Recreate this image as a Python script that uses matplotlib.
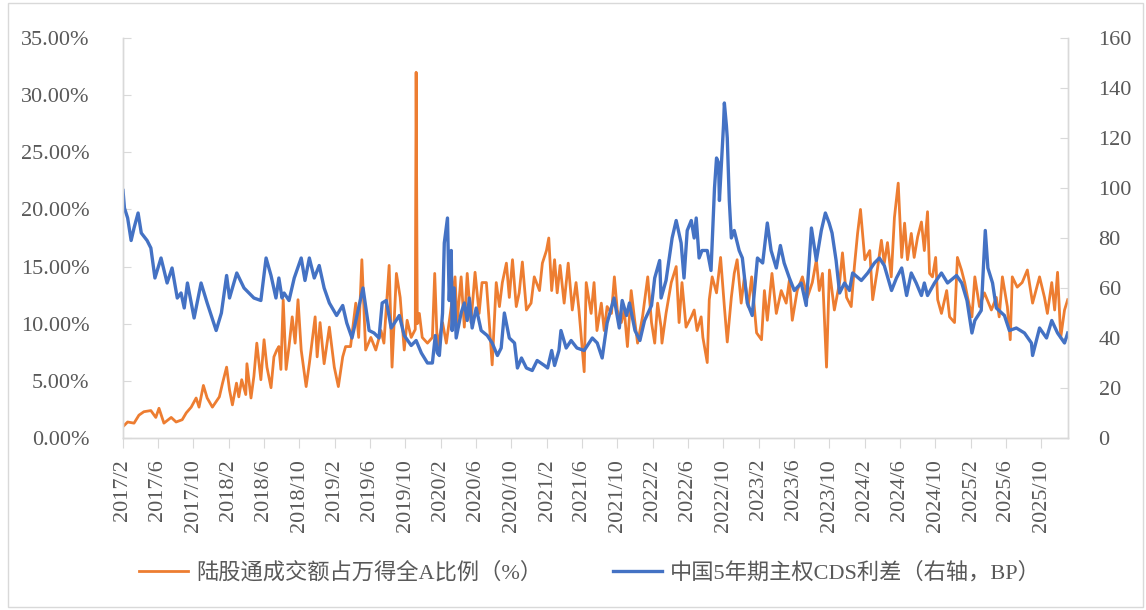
import matplotlib
matplotlib.use("Agg")
import matplotlib.pyplot as plt
import matplotlib.dates as mdates
from matplotlib.ticker import FuncFormatter, MultipleLocator
from matplotlib.patches import Rectangle
import pandas as pd

# ---------------- data ----------------
ratio_dates = [
    "2017-02-01", "2017-02-17", "2017-03-11", "2017-03-28", "2017-04-14", "2017-05-08", "2017-05-25",
    "2017-06-05", "2017-06-22", "2017-07-17", "2017-08-03", "2017-08-24", "2017-09-07", "2017-09-24",
    "2017-10-11", "2017-10-21", "2017-11-05", "2017-11-18", "2017-12-06", "2017-12-30", "2018-01-10",
    "2018-01-24", "2018-02-03", "2018-02-13", "2018-02-27", "2018-03-07", "2018-03-17", "2018-03-31",
    "2018-04-04", "2018-04-18", "2018-04-28", "2018-05-08", "2018-05-22", "2018-06-02", "2018-06-12",
    "2018-06-26", "2018-07-06", "2018-07-16", "2018-07-23", "2018-07-30", "2018-08-07", "2018-08-17",
    "2018-08-27", "2018-09-07", "2018-09-17", "2018-09-27", "2018-10-08", "2018-10-25", "2018-11-05",
    "2018-11-25", "2018-12-02", "2018-12-12", "2018-12-26", "2019-01-13", "2019-01-30", "2019-02-13",
    "2019-02-28", "2019-03-10", "2019-03-27", "2019-04-14", "2019-04-24", "2019-05-05", "2019-05-18",
    "2019-06-05", "2019-06-22", "2019-07-10", "2019-07-20", "2019-08-07", "2019-08-17", "2019-09-01",
    "2019-09-14", "2019-09-28", "2019-10-08", "2019-10-22", "2019-11-05", "2019-11-08", "2019-11-12",
    "2019-11-19", "2019-11-29", "2019-12-17", "2020-01-03", "2020-01-11", "2020-01-20", "2020-02-07",
    "2020-02-20", "2020-03-08", "2020-03-21", "2020-03-28", "2020-04-11", "2020-04-22", "2020-05-02",
    "2020-05-15", "2020-05-29", "2020-06-12", "2020-06-22", "2020-07-07", "2020-07-17", "2020-07-27",
    "2020-08-10", "2020-08-21", "2020-08-31", "2020-09-14", "2020-09-24", "2020-10-05", "2020-10-18",
    "2020-10-28", "2020-11-08", "2020-11-22", "2020-12-08", "2020-12-19", "2021-01-06", "2021-01-16",
    "2021-01-30", "2021-02-07", "2021-02-17", "2021-02-27", "2021-03-08", "2021-03-18", "2021-04-01",
    "2021-04-15", "2021-04-29", "2021-05-12", "2021-05-22", "2021-06-09", "2021-06-16", "2021-07-03",
    "2021-07-13", "2021-07-23", "2021-08-07", "2021-08-17", "2021-08-27", "2021-09-11", "2021-09-21",
    "2021-10-01", "2021-10-15", "2021-10-25", "2021-11-05", "2021-11-18", "2021-11-30", "2021-12-10",
    "2021-12-27", "2022-01-14", "2022-01-27", "2022-02-07", "2022-02-17", "2022-03-01", "2022-03-04",
    "2022-03-18", "2022-04-05", "2022-04-22", "2022-05-02", "2022-05-12", "2022-05-26", "2022-06-13",
    "2022-06-23", "2022-07-03", "2022-07-17", "2022-07-23", "2022-08-07", "2022-08-14", "2022-08-24",
    "2022-09-08", "2022-09-22", "2022-10-05", "2022-10-15", "2022-10-29", "2022-11-08", "2022-11-18",
    "2022-12-02", "2022-12-13", "2022-12-26", "2023-01-07", "2023-01-24", "2023-02-10", "2023-02-20",
    "2023-03-02", "2023-03-18", "2023-04-02", "2023-04-19", "2023-05-06", "2023-05-17", "2023-05-27",
    "2023-06-13", "2023-07-01", "2023-07-18", "2023-08-04", "2023-08-18", "2023-08-28", "2023-09-08",
    "2023-09-22", "2023-10-02", "2023-10-19", "2023-11-06", "2023-11-16", "2023-11-30", "2023-12-16",
    "2023-12-27", "2024-01-07", "2024-01-17", "2024-02-01", "2024-02-18", "2024-02-28", "2024-03-15",
    "2024-03-29", "2024-04-08", "2024-04-19", "2024-05-02", "2024-05-13", "2024-05-26", "2024-06-07",
    "2024-06-17", "2024-06-27", "2024-07-10", "2024-07-20", "2024-08-01", "2024-08-14", "2024-08-24",
    "2024-09-04", "2024-09-11", "2024-09-21", "2024-10-02", "2024-10-09", "2024-10-22", "2024-11-09",
    "2024-11-19", "2024-12-06", "2024-12-16", "2024-12-30", "2025-01-10", "2025-01-20", "2025-02-04",
    "2025-02-14", "2025-03-02", "2025-03-19", "2025-04-12", "2025-04-29", "2025-05-09", "2025-05-20",
    "2025-06-06", "2025-06-16", "2025-06-23", "2025-07-10", "2025-07-27", "2025-08-14", "2025-09-01",
    "2025-09-25", "2025-10-12", "2025-10-22", "2025-11-06", "2025-11-16", "2025-11-26", "2025-12-07",
    "2025-12-20", "2025-12-31",
]
ratio_values = [
    1.0, 1.4, 1.3, 2.0, 2.3, 2.4, 1.8,
    2.6, 1.3, 1.8, 1.4, 1.6, 2.2, 2.7,
    3.5, 2.7, 4.6, 3.5, 2.7, 3.6, 4.8,
    6.2, 4.2, 2.9, 4.8, 3.6, 5.1, 3.8,
    6.5, 3.5, 5.4, 8.3, 5.1, 8.6, 6.2,
    4.4, 7.1, 7.7, 8.0, 6.0, 12.1, 6.0,
    8.0, 10.6, 8.3, 12.1, 7.7, 4.5, 6.5,
    10.6, 7.1, 10.1, 6.5, 9.7, 6.2, 4.5,
    7.1, 8.0, 8.0, 11.8, 8.8, 15.6, 7.7,
    8.8, 7.7, 9.4, 8.3, 15.1, 6.2, 14.4,
    12.3, 7.7, 10.3, 8.8, 9.5, 32.0, 10.0,
    10.9, 8.8, 8.3, 8.8, 14.4, 8.0, 10.1,
    8.3, 11.5, 14.1, 10.1, 14.1, 9.7, 14.4,
    10.1, 14.5, 10.9, 13.6, 13.6, 10.1, 6.4,
    13.6, 11.5, 13.6, 15.3, 12.3, 15.6, 11.5,
    12.7, 15.4, 11.2, 11.8, 14.1, 12.9, 15.3,
    16.4, 17.5, 12.9, 15.6, 12.7, 15.1, 11.8,
    15.3, 11.2, 13.6, 11.2, 5.8, 13.6, 10.9,
    13.6, 9.4, 11.8, 9.4, 11.5, 10.9, 14.1,
    11.2, 10.1, 11.2, 8.0, 12.9, 10.3, 8.3,
    10.6, 14.1, 10.1, 8.3, 11.8, 9.7, 8.3,
    10.9, 13.6, 15.0, 10.1, 13.6, 9.7, 10.6,
    11.2, 9.4, 10.6, 8.8, 6.6, 12.1, 14.1,
    12.7, 15.8, 11.5, 8.4, 12.3, 14.4, 15.6,
    11.8, 14.1, 11.5, 14.1, 9.2, 8.6, 12.9,
    10.3, 14.4, 10.9, 12.9, 11.8, 13.8, 10.3,
    12.9, 14.1, 12.3, 13.6, 15.6, 12.9, 14.4,
    6.2, 14.7, 11.2, 13.6, 16.2, 12.3, 11.5,
    15.0, 17.9, 20.0, 15.6, 16.4, 12.1, 14.7,
    17.3, 15.3, 17.1, 14.1, 19.3, 22.3, 15.8,
    18.8, 15.6, 17.9, 15.8, 17.6, 18.9, 16.4,
    19.8, 14.4, 14.1, 15.8, 12.1, 10.9, 12.9,
    10.6, 10.1, 15.8, 14.7, 13.6, 12.3, 10.6,
    14.1, 11.5, 12.7, 11.2, 12.3, 10.6, 14.1,
    11.5, 8.6, 14.1, 13.2, 13.6, 14.7, 11.8,
    14.1, 12.3, 10.9, 13.6, 11.2, 14.5, 8.8,
    11.2, 12.1,
]

cds_dates = [
    "2017-02-01", "2017-02-06", "2017-02-17", "2017-03-01", "2017-03-11", "2017-03-25", "2017-04-05",
    "2017-04-25", "2017-05-08", "2017-05-22", "2017-06-12", "2017-07-03", "2017-07-20", "2017-08-07",
    "2017-08-20", "2017-08-31", "2017-09-11", "2017-10-04", "2017-10-28", "2017-11-18", "2017-12-19",
    "2018-01-06", "2018-01-24", "2018-02-03", "2018-02-28", "2018-03-25", "2018-04-11", "2018-04-28",
    "2018-05-22", "2018-06-09", "2018-06-26", "2018-07-13", "2018-07-23", "2018-08-03", "2018-08-10",
    "2018-08-27", "2018-09-14", "2018-10-08", "2018-10-21", "2018-11-05", "2018-11-22", "2018-12-09",
    "2018-12-26", "2019-01-13", "2019-02-07", "2019-02-28", "2019-03-14", "2019-04-01", "2019-04-18",
    "2019-05-09", "2019-05-30", "2019-06-16", "2019-07-03", "2019-07-14", "2019-07-28", "2019-08-14",
    "2019-09-11", "2019-09-28", "2019-10-22", "2019-11-08", "2019-11-26", "2019-12-17", "2020-01-03",
    "2020-01-13", "2020-01-20", "2020-01-27", "2020-02-07", "2020-02-13", "2020-02-24", "2020-03-01",
    "2020-03-08", "2020-03-11", "2020-03-18", "2020-03-25", "2020-04-11", "2020-04-22", "2020-05-02",
    "2020-05-09", "2020-05-19", "2020-06-02", "2020-06-19", "2020-07-10", "2020-07-27", "2020-08-14",
    "2020-08-27", "2020-09-07", "2020-09-24", "2020-10-12", "2020-10-22", "2020-11-05", "2020-11-22",
    "2020-12-12", "2020-12-29", "2021-01-23", "2021-02-03", "2021-02-17", "2021-02-27", "2021-03-14",
    "2021-03-21", "2021-04-08", "2021-04-25", "2021-05-15", "2021-06-09", "2021-07-07", "2021-07-24",
    "2021-08-10", "2021-08-27", "2021-09-20", "2021-10-08", "2021-10-18", "2021-11-02", "2021-11-12",
    "2021-12-01", "2021-12-18", "2022-01-03", "2022-01-27", "2022-02-07", "2022-02-24", "2022-03-01",
    "2022-03-18", "2022-03-28", "2022-04-08", "2022-04-22", "2022-05-09", "2022-05-19", "2022-05-30",
    "2022-06-13", "2022-06-23", "2022-06-30", "2022-07-10", "2022-07-20", "2022-08-07", "2022-08-20",
    "2022-09-01", "2022-09-08", "2022-09-15", "2022-09-18", "2022-09-25", "2022-10-02", "2022-10-05",
    "2022-10-12", "2022-10-15", "2022-10-22", "2022-10-29", "2022-11-08", "2022-11-25", "2022-12-06",
    "2022-12-23", "2023-01-09", "2023-01-27", "2023-02-14", "2023-03-02", "2023-03-15", "2023-04-02",
    "2023-04-16", "2023-04-29", "2023-05-17", "2023-06-03", "2023-06-27", "2023-07-14", "2023-08-01",
    "2023-08-18", "2023-09-04", "2023-09-18", "2023-10-01", "2023-10-11", "2023-10-25", "2023-11-06",
    "2023-11-23", "2023-12-10", "2023-12-21", "2024-01-20", "2024-02-11", "2024-03-05", "2024-03-22",
    "2024-04-08", "2024-05-03", "2024-05-20", "2024-06-07", "2024-06-24", "2024-07-10", "2024-07-27",
    "2024-08-14", "2024-08-24", "2024-09-04", "2024-09-28", "2024-10-22", "2024-11-12", "2024-12-13",
    "2024-12-31", "2025-01-18", "2025-02-04", "2025-02-14", "2025-03-08", "2025-03-22", "2025-03-31",
    "2025-04-16", "2025-04-29", "2025-05-27", "2025-06-13", "2025-07-07", "2025-08-04", "2025-08-28",
    "2025-09-01", "2025-09-25", "2025-10-19", "2025-11-06", "2025-11-26", "2025-12-20", "2025-12-31",
]
cds_values = [
    99, 92, 88, 79, 84, 90, 82,
    79, 76, 64, 72, 62, 68, 56,
    58, 52, 62, 48, 62, 54, 43,
    50, 65, 56, 66, 60, 58, 56,
    55, 72, 65, 56, 64, 56, 58,
    55, 64, 72, 63, 72, 64, 69,
    60, 54, 49, 53, 46, 40, 49,
    60, 43, 42, 40, 54, 55, 44,
    49, 41, 37, 39, 34, 30, 30,
    41, 34, 33, 50, 78, 88, 55,
    75, 43, 60, 40, 50, 54, 47,
    56, 44, 52, 43, 41, 38, 33,
    36, 50, 40, 38, 28, 32, 28,
    27, 31, 29, 28, 35, 29, 35,
    43, 36, 39, 36, 35, 40, 38,
    32, 46, 56, 44, 55, 49, 54,
    43, 39, 47, 53, 64, 71, 56,
    63, 71, 80, 87, 78, 64, 83,
    87, 80, 88, 72, 75, 75, 67,
    100, 112, 110, 95, 110, 125, 134,
    125, 120, 95, 80, 83, 75, 72,
    54, 49, 72, 70, 86, 75, 68,
    77, 70, 64, 59, 62, 53, 84,
    71, 83, 90, 86, 82, 71, 58,
    62, 59, 66, 63, 66, 70, 72,
    69, 59, 64, 68, 57, 66, 62,
    57, 62, 57, 62, 66, 62, 65,
    62, 55, 42, 47, 51, 83, 68,
    62, 52, 49, 43, 44, 42, 38,
    33, 44, 40, 47, 42, 38, 42,
]

x_start = "2017-02-01"
x_end = "2026-01-01"
left_label = "陆股通成交额占万得全A比例（%）"
right_label = "中国5年期主权CDS利差（右轴，BP）"

# ---------------- style ----------------
ORANGE = "#ED7D31"
BLUE = "#4472C4"
GRID = "#D9D9D9"
TXT = "#595959"
FONT = ["Liberation Serif", "Noto Sans CJK SC", "DejaVu Sans"]
plt.rcParams["font.family"] = FONT

fig = plt.figure(figsize=(11.46, 6.10), dpi=100)
ax = fig.add_axes([123 / 1146, 1 - 438 / 610, (1068 - 123) / 1146, (438 - 38) / 610])
ax2 = ax.twinx()

rd = pd.to_datetime(ratio_dates)
cd = pd.to_datetime(cds_dates)
l1, = ax.plot(rd, ratio_values, color=ORANGE, lw=2.0, solid_joinstyle="round", label=left_label)
l2, = ax2.plot(cd, cds_values, color=BLUE, lw=2.4, solid_joinstyle="round", label=right_label)

ax.set_xlim(pd.Timestamp(x_start), pd.Timestamp(x_end))
ax.set_ylim(0, 35)
ax2.set_ylim(0, 160)
ax.yaxis.set_major_locator(MultipleLocator(5))
ax2.yaxis.set_major_locator(MultipleLocator(20))
ax.yaxis.set_major_formatter(FuncFormatter(lambda v, p: f"{v:.2f}%"))
ax2.yaxis.set_major_formatter(FuncFormatter(lambda v, p: f"{v:.0f}"))

ax.xaxis.set_major_locator(mdates.MonthLocator(bymonth=[2, 6, 10]))
ax.xaxis.set_major_formatter(FuncFormatter(
    lambda v, p: f"{mdates.num2date(v).year}/{mdates.num2date(v).month}"))

for a in (ax, ax2):
    for s in a.spines.values():
        s.set_color(GRID)
        s.set_linewidth(1.0)
    a.spines["top"].set_visible(False)

ax.tick_params(axis="y", direction="in", length=6, color=GRID, labelsize=16,
               labelcolor=TXT, pad=24)
ax2.tick_params(axis="y", direction="in", length=6, color=GRID, labelsize=16,
                labelcolor=TXT, pad=22)
ax.tick_params(axis="x", direction="out", length=7, color=GRID, labelsize=16,
               labelcolor=TXT, pad=8, labelrotation=90)

fig.legend(handles=[l1, l2], loc="center", ncol=2, frameon=False,
           bbox_to_anchor=(590 / 1146, 1 - 573 / 610), fontsize=16,
           labelcolor=TXT, handlelength=2.2, handletextpad=0.35, columnspacing=3.2)

fig.patches.append(Rectangle((8 / 1146, 3 / 610), 1135 / 1146, 604 / 610,
                             transform=fig.transFigure, fill=False,
                             edgecolor=GRID, lw=1.0))

fig.savefig("out.png", dpi=100)
